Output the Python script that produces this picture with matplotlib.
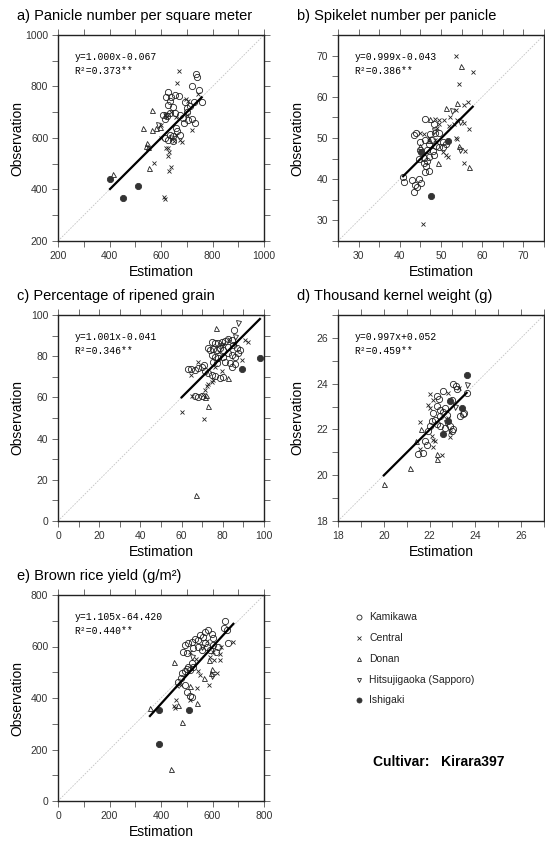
import matplotlib
matplotlib.use("Agg")
import matplotlib.pyplot as plt
from matplotlib.ticker import MultipleLocator

plt.rcParams['font.family'] = ['Liberation Sans', 'DejaVu Sans']

# ---- data (estimation, observation) per site ----
groups = ["Kamikawa", "Central", "Donan", "Hitsujigaoka (Sapporo)", "Ishigaki"]

# a) Panicle number per square meter
a_kamikawa = [(734, 849), (741, 836), (721, 803), (749, 787), (758, 738), (626, 777), (619, 759), (639, 759),
              (654, 768), (670, 764), (635, 742), (628, 729), (693, 738), (712, 725), (728, 738), (702, 716),
              (609, 690), (622, 684), (635, 699), (654, 697), (674, 690), (687, 678), (706, 671), (732, 658),
              (719, 674), (617, 674), (635, 613), (648, 607), (674, 613), (628, 594), (645, 587), (615, 600),
              (663, 626), (645, 720), (700, 700), (690, 660), (660, 640)]
a_central = [(670, 862), (663, 813), (697, 751), (705, 742), (721, 633), (628, 562), (632, 545), (626, 532),
             (637, 488), (632, 472), (573, 501), (613, 372), (617, 362), (680, 584), (674, 594), (600, 650),
             (660, 680), (640, 700), (650, 590), (700, 690), (615, 690), (625, 680), (745, 770), (660, 610),
             (620, 560), (600, 600)]
a_donan = [(564, 707), (531, 639), (566, 633), (596, 643), (544, 581), (551, 566), (553, 484), (412, 459),
           (540, 570), (580, 640)]
a_hitsuji = [(640, 600), (620, 690), (590, 650)]
a_ishigaki = [(402, 439), (454, 368), (512, 414)]

# b) Spikelet number per panicle
b_kamikawa = [(46.2, 54.5), (48.4, 53.4), (43.4, 50.8), (47.4, 51.0), (48.6, 51.2), (49.6, 51.1), (44.8, 49.0),
              (46.2, 49.5), (47.8, 49.5), (50.5, 49.0), (51.2, 48.6), (48.9, 48.0), (49.6, 47.7), (50.4, 47.8),
              (45.0, 47.0), (46.6, 47.2), (48.0, 46.8), (44.6, 45.0), (45.8, 45.2), (47.0, 45.4), (48.2, 45.8),
              (45.8, 43.9), (46.4, 43.1), (47.2, 42.1), (46.2, 41.7), (41.0, 39.3), (43.0, 39.8), (43.8, 38.7),
              (44.6, 40.1), (45.1, 39.0), (44.2, 38.1), (43.5, 36.8), (40.8, 40.5), (44.0, 51.3), (47.0, 48.5),
              (46.5, 44.5)]
b_central = [(53.6, 70.0), (57.7, 66.0), (54.4, 63.0), (55.5, 58.0), (56.6, 58.7), (53.7, 56.7), (52.1, 55.0),
             (54.0, 54.3), (55.7, 53.7), (53.1, 53.5), (48.6, 54.7), (49.6, 54.3), (50.7, 54.3), (49.6, 53.4),
             (52.0, 52.9), (56.7, 52.3), (45.8, 50.9), (47.2, 49.9), (53.6, 50.1), (53.9, 49.7), (55.8, 46.8),
             (50.4, 46.6), (51.2, 45.8), (51.7, 45.4), (55.7, 43.9), (45.6, 29.1), (49.0, 52.5), (48.5, 49.5),
             (44.8, 51.2)]
b_donan = [(54.8, 67.5), (53.9, 58.6), (51.2, 57.3), (47.4, 54.7), (47.0, 49.6), (54.4, 48.0), (49.3, 43.9),
           (56.9, 43.0), (45.0, 48.0)]
b_hitsuji = [(52.7, 56.6), (54.5, 53.9), (54.7, 47.0), (48.2, 51.8)]
b_ishigaki = [(45.1, 46.6), (51.7, 49.3), (47.6, 36.0)]

# c) Percentage of ripened grain
c_kamikawa = [(85.6, 92.7), (74.6, 87.1), (76.2, 86.3), (77.8, 86.6), (79.4, 87.1), (81.0, 87.5), (82.6, 88.2),
              (84.3, 87.9), (73.0, 83.9), (73.7, 83.0), (75.4, 83.4), (77.0, 83.0), (78.6, 83.9), (80.2, 83.0),
              (82.6, 84.7), (85.1, 85.5), (86.7, 83.9), (74.6, 80.6), (76.2, 79.8), (77.8, 79.0), (80.2, 79.8),
              (82.6, 81.4), (84.3, 80.6), (85.9, 79.8), (87.5, 81.4), (88.3, 83.0), (75.4, 77.4), (77.0, 76.6),
              (81.0, 77.4), (83.5, 76.6), (85.9, 76.3), (84.3, 75.0), (64.8, 73.7), (66.5, 73.1), (68.1, 74.2),
              (69.7, 75.0), (71.0, 75.8), (71.3, 72.6), (73.0, 71.8), (74.6, 71.0), (76.2, 70.2), (78.6, 69.4),
              (80.2, 69.8), (66.5, 60.5), (68.1, 60.2), (69.7, 60.5), (63.2, 73.8)]
c_central = [(92.0, 87.1), (91.0, 88.0), (89.1, 78.2), (67.8, 77.4), (64.5, 71.0), (74.6, 67.7), (73.0, 66.6),
             (72.1, 65.3), (71.3, 63.7), (70.5, 61.3), (65.2, 60.5), (60.0, 52.8), (71.0, 49.3), (80.0, 86.0),
             (83.0, 88.5), (78.0, 82.0), (86.0, 86.0), (76.0, 75.0), (79.5, 73.0), (75.0, 68.5)]
c_donan = [(76.5, 93.5), (82.6, 69.4), (71.6, 60.2), (72.6, 56.0), (66.8, 12.8), (72.0, 61.0)]
c_hitsuji = [(87.2, 96.2), (86.0, 89.5), (79.0, 85.0)]
c_ishigaki = [(98.0, 79.0), (89.4, 73.9)]

# d) Thousand kernel weight
d_kamikawa = [(23.04, 24.0), (23.16, 23.91), (23.21, 23.76), (23.62, 23.59), (22.6, 23.66), (22.34, 23.45),
              (22.43, 23.33), (22.97, 23.27), (22.31, 23.01), (22.46, 22.87), (22.67, 22.94), (23.48, 22.69),
              (23.33, 22.58), (22.17, 22.72), (22.6, 22.75), (22.46, 22.58), (22.75, 22.65), (22.09, 22.36),
              (22.24, 22.43), (22.31, 22.22), (22.02, 22.14), (22.46, 22.14), (22.67, 22.07), (22.89, 22.14),
              (23.04, 22.0), (22.97, 21.92), (21.95, 21.92), (21.8, 21.49), (21.87, 21.34), (21.51, 20.91),
              (21.7, 20.98), (23.5, 22.7)]
d_central = [(22.02, 23.56), (22.82, 23.59), (22.17, 23.3), (21.95, 23.08), (22.02, 22.94), (21.58, 22.32),
             (22.89, 21.68), (22.09, 21.71), (22.17, 21.56), (22.24, 21.49), (22.14, 21.24), (21.58, 21.13),
             (22.53, 20.87), (23.3, 23.8), (22.9, 23.3), (22.9, 21.9), (22.8, 22.5)]
d_donan = [(21.61, 22.0), (22.31, 20.91), (22.31, 20.72), (21.15, 20.33), (20.0, 19.6), (21.4, 21.5)]
d_hitsuji = [(23.62, 23.95), (22.7, 22.3), (23.1, 23.0)]
d_ishigaki = [(23.62, 24.36), (22.89, 23.23), (23.4, 22.94), (22.82, 22.36), (22.6, 21.78)]

# e) Brown rice yield
e_kamikawa = [(648, 700), (645, 670), (657, 666), (661, 612), (571, 657), (584, 664), (551, 644), (597, 648),
              (603, 632), (493, 606), (506, 612), (519, 619), (532, 628), (545, 625), (564, 638), (487, 580),
              (500, 574), (526, 593), (545, 597), (558, 587), (571, 612), (577, 599), (590, 587), (603, 606),
              (614, 580), (623, 597), (519, 535), (506, 522), (500, 512), (480, 496), (493, 503), (513, 509),
              (526, 520), (476, 477), (467, 464), (493, 451), (500, 422), (513, 409), (519, 404)]
e_central = [(681, 619), (513, 580), (632, 599), (629, 571), (590, 561), (606, 548), (629, 548), (536, 551),
             (545, 503), (551, 490), (616, 496), (588, 451), (476, 451), (463, 448), (541, 439), (513, 393),
             (458, 393), (450, 370), (454, 361), (600, 580), (580, 620)]
e_donan = [(450, 538), (588, 548), (597, 512), (594, 499), (567, 477), (513, 448), (538, 381), (467, 374),
           (357, 360), (480, 307), (437, 123)]
e_hitsuji = [(597, 484), (560, 600), (520, 560)]
e_ishigaki = [(394, 355), (507, 355), (394, 220)]

titles = ["a) Panicle number per square meter", "b) Spikelet number per panicle",
          "c) Percentage of ripened grain", "d) Thousand kernel weight (g)",
          "e) Brown rice yield (g/m\u00b2)"]
slopes = [1.000, 0.999, 1.001, 0.997, 1.105]
intercepts = [-0.067, -0.043, -0.041, 0.052, -64.420]
r2 = [0.373, 0.386, 0.346, 0.459, 0.440]
limits = [(200, 1000), (25, 75), (0, 100), (18, 27), (0, 800)]
major = [200, 10, 20, 2, 200]
minor = [100, 5, 10, 1, 100]

panel_data = [
    [a_kamikawa, a_central, a_donan, a_hitsuji, a_ishigaki],
    [b_kamikawa, b_central, b_donan, b_hitsuji, b_ishigaki],
    [c_kamikawa, c_central, c_donan, c_hitsuji, c_ishigaki],
    [d_kamikawa, d_central, d_donan, d_hitsuji, d_ishigaki],
    [e_kamikawa, e_central, e_donan, e_hitsuji, e_ishigaki],
]

# marker style per site
styles = [
    dict(marker='o', ms=4.5, mfc='none', mec='#222', mew=0.6),
    dict(marker='x', ms=2.8, mfc='none', mec='#222', mew=0.6),
    dict(marker='^', ms=3.6, mfc='none', mec='#222', mew=0.6),
    dict(marker='v', ms=3.6, mfc='none', mec='#222', mew=0.6),
    dict(marker='o', ms=4.5, mfc='#333', mec='#333', mew=0.6),
]

W, H = 545, 842
fig = plt.figure(figsize=(W / 100, H / 100), dpi=100)

# panel boxes in pixels: left, top
boxes = [(58, 35), (338, 35), (58, 315), (338, 315), (58, 595)]
size = 206

for i in range(5):
    left, top = boxes[i]
    ax = fig.add_axes([left / W, 1 - (top + size) / H, size / W, size / H])
    lo, hi = limits[i]
    ax.plot([lo, hi], [lo, hi], color='#c4c4c4', lw=0.6, ls=(0, (2, 1.5)), zorder=1)

    all_x = []
    for pts, st in zip(panel_data[i], styles):
        xs = [p[0] for p in pts]
        ys = [p[1] for p in pts]
        all_x += xs
        ax.plot(xs, ys, ls='none', zorder=3, **st)

    x0, x1 = min(all_x), max(all_x)
    ax.plot([x0, x1], [slopes[i] * x0 + intercepts[i], slopes[i] * x1 + intercepts[i]],
            color='black', lw=1.6, zorder=4)

    ax.set_xlim(lo, hi)
    ax.set_ylim(lo, hi)
    ax.xaxis.set_major_locator(MultipleLocator(major[i]))
    ax.yaxis.set_major_locator(MultipleLocator(major[i]))
    ax.xaxis.set_minor_locator(MultipleLocator(minor[i]))
    ax.yaxis.set_minor_locator(MultipleLocator(minor[i]))
    ax.tick_params(which='both', direction='out', length=4, width=0.6, color='#555',
                   top=True, right=True, labelsize=7.5, labelcolor='#333', pad=3)
    for sp in ax.spines.values():
        sp.set_linewidth(1.0)
        sp.set_color('#222')

    sign = '+' if intercepts[i] >= 0 else '-'
    eq = f"y={slopes[i]:.3f}x{sign}{abs(intercepts[i]):.3f}"
    ax.text(0.08, 0.895, eq, transform=ax.transAxes, family='Liberation Mono',
            fontsize=7, va='center', ha='left')
    ax.text(0.08, 0.825, f"R\u00b2={r2[i]:.3f}**", transform=ax.transAxes, family='Liberation Mono',
            fontsize=7, va='center', ha='left')

    ax.set_xlabel("Estimation", fontsize=10, labelpad=3)
    ax.set_ylabel("Observation", fontsize=10, va='center')
    ax.yaxis.set_label_coords(-0.195, 0.5)
    fig.text((left - 41) / W, 1 - (top - 19) / H, titles[i], fontsize=10.5,
             ha='left', va='center')

# legend drawn by hand
lax = fig.add_axes([0, 0, 1, 1], facecolor='none')
lax.set_xlim(0, W)
lax.set_ylim(H, 0)
lax.axis('off')
leg_y = [617, 638, 659, 680, 700]
for name, st, y in zip(groups, styles, leg_y):
    s = dict(st)
    s['ms'] = s['ms'] * 0.8
    lax.plot([359], [y], ls='none', **s)
    lax.text(369, y, name, fontsize=7.5, va='center', ha='left', color='#222')

lax.text(373, 762, "Cultivar:   Kirara397", fontsize=10, fontweight='bold', va='center', ha='left')

fig.savefig("out.png", dpi=100)
